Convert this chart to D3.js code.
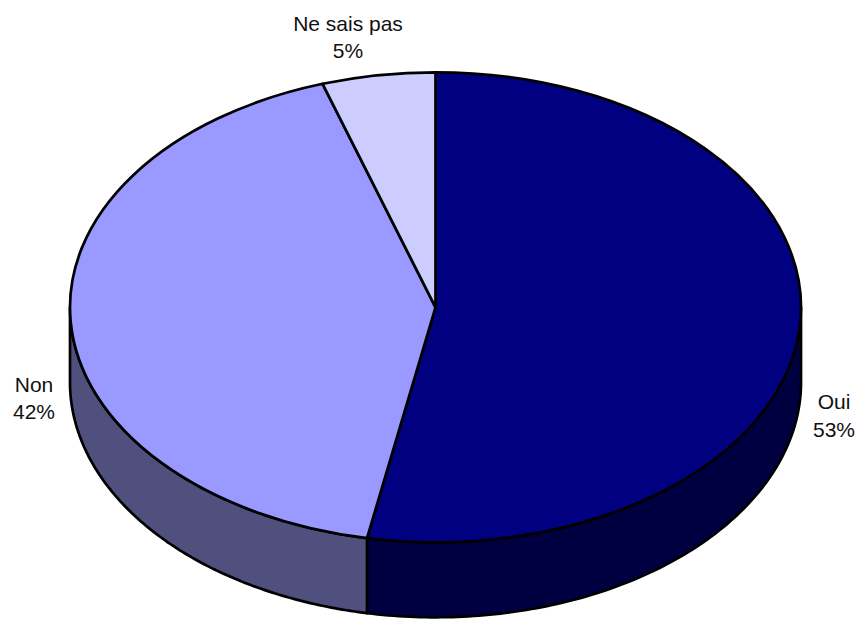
<!DOCTYPE html>
<html>
<head>
<meta charset="utf-8">
<script src="https://cdnjs.cloudflare.com/ajax/libs/d3/7.8.5/d3.min.js"></script>
<style>
  html, body { margin: 0; padding: 0; background: #fff; }
  svg { display: block; }
  text { font-family: "Liberation Sans", Arial, sans-serif; font-size: 21px; fill: #111; }
</style>
</head>
<body>
<script>
// Survey answers, in clockwise order from twelve o'clock.
const categories = ["Oui", "Non", "Ne sais pas"];
const shares = [53, 42, 5];
const topColors = ["#000080", "#9999ff", "#ccccff"];
const wallColors = ["#000040", "#50507f", "#666680"];
const labelAnchors = [[834, 401, 429], [34, 384, 411], [348, 23, 50]];

const width = 860, height = 623;
const cx = 435.5, cy = 307.3, rx = 365.5, ry = 235, depth = 75;
const strokeWidth = 2.7;

const svg = d3.select("body").append("svg")
  .attr("width", width).attr("height", height);

const arcs = d3.pie().sort(null).value(d => d)(shares);

// A point on the rim of the tilted disc, angle measured clockwise from the top.
const rim = (a, drop = 0) => [cx + rx * Math.sin(a), cy - ry * Math.cos(a) + drop];

// Side walls: only the part of each slice's rim that faces the viewer.
const line = d3.line();
const frontStart = Math.PI / 2, frontEnd = 3 * Math.PI / 2;
const walls = svg.append("g");
arcs.forEach((d, i) => {
  const a0 = Math.max(d.startAngle, frontStart), a1 = Math.min(d.endAngle, frontEnd);
  if (a1 <= a0) return;
  const steps = d3.range(0, 121).map(k => a0 + (a1 - a0) * k / 120);
  const outline = steps.map(a => rim(a)).concat(steps.slice().reverse().map(a => rim(a, depth)));
  walls.append("path")
    .attr("d", line(outline) + "Z")
    .attr("fill", wallColors[i])
    .attr("stroke", "#000")
    .attr("stroke-width", strokeWidth)
    .attr("stroke-linejoin", "round");
});

// Top face: a flat pie squashed vertically into an ellipse.
const arcGen = d3.arc().innerRadius(0).outerRadius(rx);
svg.append("g")
  .attr("transform", `translate(${cx},${cy}) scale(1,${ry / rx})`)
  .selectAll("path")
  .data(arcs)
  .join("path")
  .attr("d", arcGen)
  .attr("fill", (d, i) => topColors[i])
  .attr("stroke", "#000")
  .attr("stroke-width", strokeWidth)
  .attr("stroke-linejoin", "round")
  .attr("vector-effect", "non-scaling-stroke");

// Category name above its percentage.
const labels = svg.append("g").attr("text-anchor", "middle");
categories.forEach((c, i) => {
  const [x, y1, y2] = labelAnchors[i];
  labels.append("text").attr("x", x).attr("y", y1).attr("dy", "0.36em").text(c);
  labels.append("text").attr("x", x).attr("y", y2).attr("dy", "0.36em").text(shares[i] + "%");
});
</script>
</body>
</html>
